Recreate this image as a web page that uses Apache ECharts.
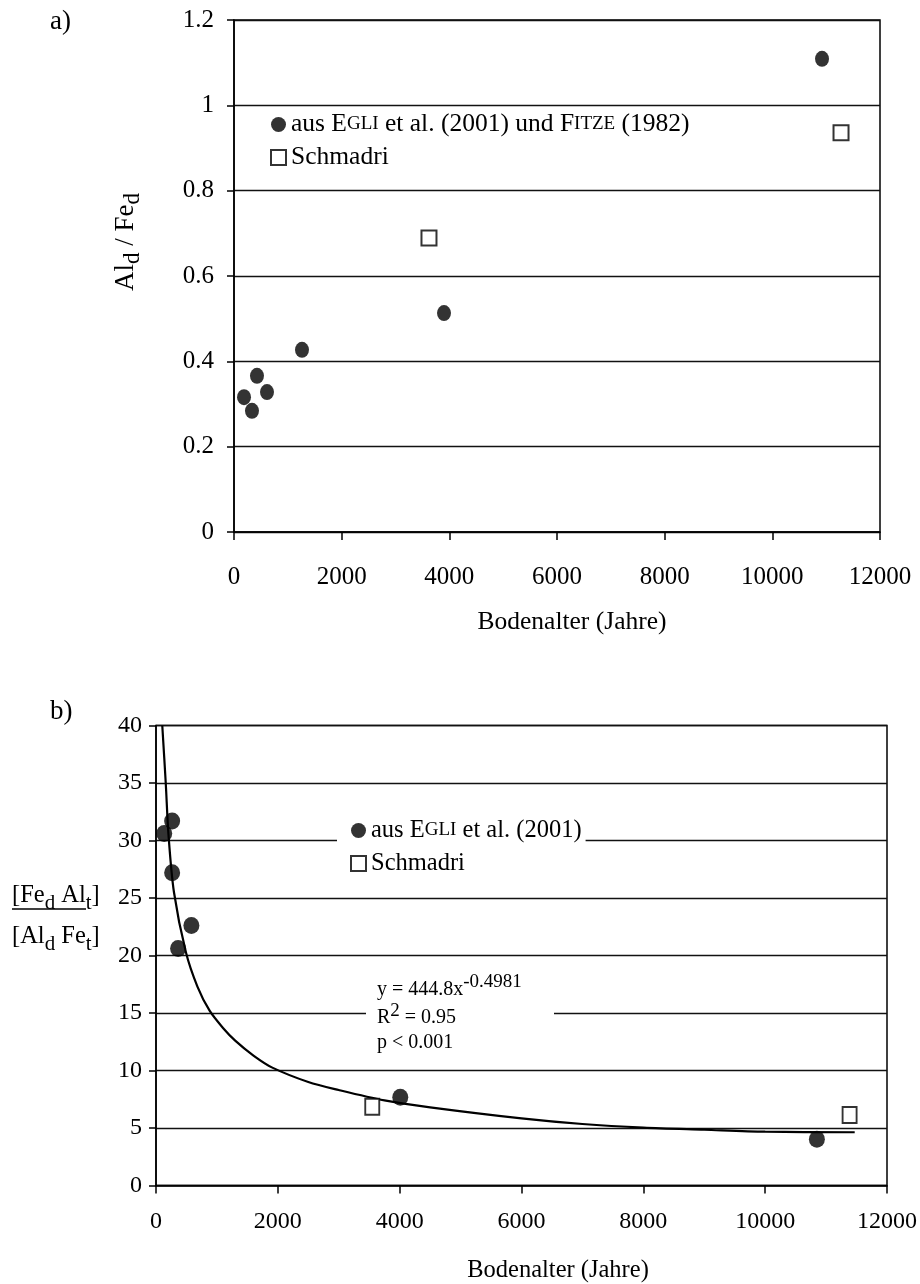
<!DOCTYPE html>
<html>
<head>
<meta charset="utf-8">
<script src="https://cdn.jsdelivr.net/npm/echarts@6/dist/echarts.min.js"></script>
<style>
html, body { margin: 0; padding: 0; background: #fff; }
#main { width: 920px; height: 1284px; }
</style>
</head>
<body>
<div id="main"></div>
<script>
// ---- panel a: Ald / Fed vs soil age
var ageA_egli   = [186, 334, 427, 613, 1263, 3901, 10923];
var ratioA_egli = [0.316, 0.284, 0.366, 0.328, 0.427, 0.513, 1.109];
var ageA_schm   = [3622, 11276];
var ratioA_schm = [0.689, 0.936];

// ---- panel b: [Fed Alt]/[Ald Fet] vs soil age
var ageB_egli   = [135, 265, 265, 363, 581, 4010, 10849];
var ratioB_egli = [30.6, 31.7, 27.2, 20.6, 22.6, 7.67, 4.02];
var ageB_schm   = [3550, 11386];
var ratioB_schm = [6.85, 6.13];

// power trendline, points
var trendAge = [103, 160, 205, 295, 490, 680, 880, 1100, 1300, 1600, 1910, 2500, 3000, 3750, 4500, 6000, 7000, 8000, 9000, 10000, 11470];
var trendVal = [40, 35, 30.5, 25.5, 20.3, 17.3, 15.2, 13.7, 12.6, 11.3, 10.25, 9.0, 8.3, 7.4, 6.8, 5.84, 5.35, 5.03, 4.85, 4.68, 4.63];

var nameA = 'aus EGLI et al. (2001) und FITZE (1982)';
var nameB = 'aus EGLI et al. (2001)';
var legendRich = {};
legendRich[nameA] = 'aus E{sc|GLI} et al. (2001) und F{sc|ITZE} (1982)';
legendRich[nameB] = 'aus E{sc|GLI} et al. (2001)';

var FONT = 'Liberation Serif';

function pairs(xs, ys) {
    return xs.map(function (x, i) { return [x, ys[i]]; });
}

function xAxisCfg(idx, fs, margin) {
    return {
        gridIndex: idx,
        type: 'value',
        min: 0, max: 12000, interval: 2000,
        axisLine: { lineStyle: { color: '#000', width: 1.5 } },
        axisTick: { length: 8, lineStyle: { color: '#000', width: 1.5 } },
        axisLabel: {
            margin: margin, fontSize: fs, fontFamily: FONT, color: '#000',
            formatter: function (v) { return String(v); }
        },
        splitLine: { show: false }
    };
}

function yAxisCfg(idx, max, interval, fs, margin) {
    return {
        gridIndex: idx,
        type: 'value',
        min: 0, max: max, interval: interval,
        axisLine: { show: true, lineStyle: { color: '#000', width: 1.5 } },
        axisTick: { show: true, length: 7, lineStyle: { color: '#000', width: 1.5 } },
        axisLabel: { margin: margin, fontSize: fs, fontFamily: FONT, color: '#000' },
        splitLine: { show: true, lineStyle: { color: '#111', width: 1.3 } }
    };
}

function legendCfg(names, left, top, fs, extra) {
    var l = {
        data: names,
        left: left, top: top,
        orient: 'vertical',
        itemWidth: 15, itemHeight: 15, itemGap: 6,
        selectedMode: false,
        padding: 0,
        formatter: function (n) { return legendRich[n] || n; },
        textStyle: {
            fontSize: fs, fontFamily: FONT, color: '#000', lineHeight: 27,
            rich: { sc: { fontSize: Math.round(fs * 0.76), fontFamily: FONT, color: '#000' } }
        }
    };
    for (var k in extra) l[k] = extra[k];
    return l;
}

var chart = echarts.init(document.getElementById('main'));

var option = {
    animation: false,
    backgroundColor: '#fff',
    grid: [
        { left: 234, top: 20, width: 646, height: 512, show: true, borderColor: '#000', borderWidth: 1.5 },
        { left: 156, top: 725.5, width: 737, height: 460, show: true, borderColor: '#000', borderWidth: 1.5 }
    ],
    xAxis: [xAxisCfg(0, 25, 33), xAxisCfg(1, 24, 24)],
    yAxis: [yAxisCfg(0, 1.2, 0.2, 25, 20), yAxisCfg(1, 40, 5, 24, 14)],
    legend: [
        legendCfg([nameA, 'Schmadri'], 270, 111, 25.5, {}),
        legendCfg([nameB, 'Schmadri'], 337, 809, 24.5, { backgroundColor: '#fff', padding: [8, 4, 8, 13] })
    ],
    series: [
        {
            name: nameA, type: 'scatter', xAxisIndex: 0, yAxisIndex: 0,
            symbol: 'circle', symbolSize: [14, 16],
            itemStyle: { color: '#000' },
            data: pairs(ageA_egli, ratioA_egli)
        },
        {
            name: 'Schmadri', type: 'scatter', xAxisIndex: 0, yAxisIndex: 0,
            symbol: 'rect', symbolSize: 15,
            itemStyle: { color: '#fff', borderColor: '#000', borderWidth: 2 },
            data: pairs(ageA_schm, ratioA_schm)
        },
        {
            name: 'trend', type: 'line', xAxisIndex: 1, yAxisIndex: 1,
            smooth: 0.3, showSymbol: false, silent: true, z: 1,
            lineStyle: { color: '#000', width: 2.2 },
            data: pairs(trendAge, trendVal)
        },
        {
            name: nameB, type: 'scatter', xAxisIndex: 1, yAxisIndex: 1,
            symbol: 'circle', symbolSize: [16, 17],
            itemStyle: { color: '#000' },
            data: pairs(ageB_egli, ratioB_egli)
        },
        {
            name: 'Schmadri', type: 'scatter', xAxisIndex: 1, yAxisIndex: 1,
            symbol: 'rect', symbolSize: [14, 16],
            itemStyle: { color: '#fff', borderColor: '#000', borderWidth: 2 },
            data: pairs(ageB_schm, ratioB_schm)
        }
    ],
    graphic: [
        // panel letters
        { type: 'text', x: 50, y: 22, style: { text: 'a)', fontSize: 27, fontFamily: FONT, fill: '#000', verticalAlign: 'middle' } },
        { type: 'text', x: 50, y: 712, style: { text: 'b)', fontSize: 27, fontFamily: FONT, fill: '#000', verticalAlign: 'middle' } },
        // axis titles
        { type: 'text', x: 572, y: 622, style: { text: 'Bodenalter (Jahre)', fontSize: 25.5, fontFamily: FONT, fill: '#000', align: 'center', verticalAlign: 'middle' } },
        { type: 'text', x: 558, y: 1271, style: { text: 'Bodenalter (Jahre)', fontSize: 24.5, fontFamily: FONT, fill: '#000', align: 'center', verticalAlign: 'middle' } },
        {
            type: 'text', x: 126, y: 242, rotation: Math.PI / 2,
            style: {
                text: '{m|Al}{s|d}{m| / Fe}{s|d}', align: 'center', verticalAlign: 'middle',
                rich: {
                    m: { fontSize: 27, fontFamily: FONT, fill: '#000' },
                    s: { fontSize: 23, fontFamily: FONT, fill: '#000', padding: [14, 0, 0, 0] }
                }
            }
        },
        {
            type: 'text', x: 12, y: 896,
            style: {
                text: '{m|[Fe}{s|d}{m| Al}{s|t}{m|]}', align: 'left', verticalAlign: 'middle',
                rich: {
                    m: { fontSize: 24.5, fontFamily: FONT, fill: '#000' },
                    s: { fontSize: 21, fontFamily: FONT, fill: '#000', padding: [14, 0, 0, 0] }
                }
            }
        },
        { type: 'line', shape: { x1: 12, y1: 909, x2: 86, y2: 909 }, style: { stroke: '#000', lineWidth: 1.5 } },
        {
            type: 'text', x: 12, y: 937,
            style: {
                text: '{m|[Al}{s|d}{m| Fe}{s|t}{m|]}', align: 'left', verticalAlign: 'middle',
                rich: {
                    m: { fontSize: 24.5, fontFamily: FONT, fill: '#000' },
                    s: { fontSize: 21, fontFamily: FONT, fill: '#000', padding: [14, 0, 0, 0] }
                }
            }
        },
        // regression annotation box
        { type: 'rect', z: 10, shape: { x: 366, y: 964, width: 188, height: 92 }, style: { fill: '#fff' } },
        {
            type: 'text', z: 11, x: 377, y: 990,
            style: {
                text: '{m|y = 444.8x}{p|-0.4981}', align: 'left', verticalAlign: 'middle',
                rich: {
                    m: { fontSize: 20, fontFamily: FONT, fill: '#000' },
                    p: { fontSize: 19, fontFamily: FONT, fill: '#000', padding: [0, 0, 16, 0] }
                }
            }
        },
        {
            type: 'text', z: 11, x: 377, y: 1018,
            style: {
                text: '{m|R}{p|2}{m| = 0.95}', align: 'left', verticalAlign: 'middle',
                rich: {
                    m: { fontSize: 20, fontFamily: FONT, fill: '#000' },
                    p: { fontSize: 19, fontFamily: FONT, fill: '#000', padding: [0, 0, 14, 0] }
                }
            }
        },
        {
            type: 'text', z: 11, x: 377, y: 1043,
            style: { text: 'p < 0.001', fontSize: 20, fontFamily: FONT, fill: '#000', verticalAlign: 'middle' }
        }
    ]
};

chart.setOption(option);
</script>
</body>
</html>
